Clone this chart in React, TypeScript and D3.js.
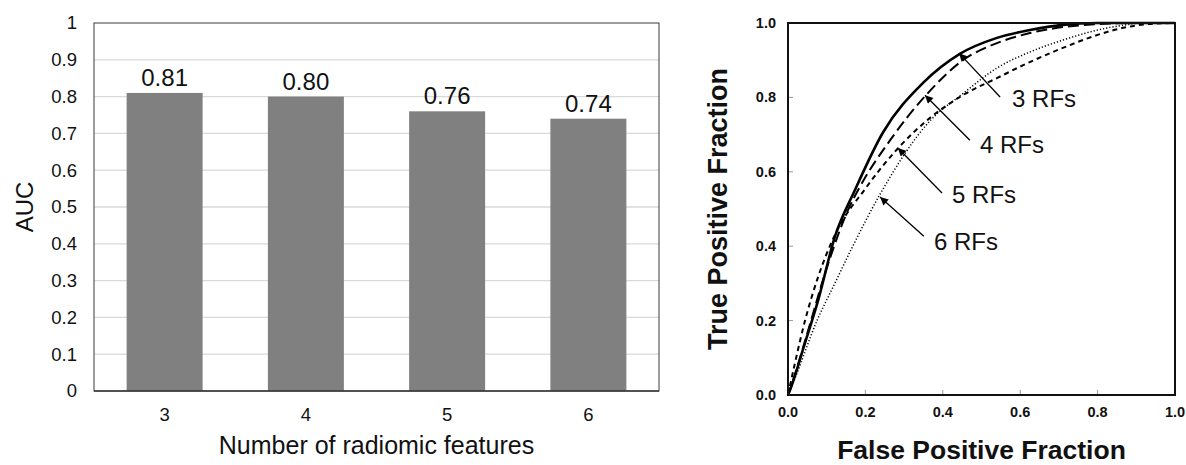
import React from "react";
import * as d3 from "d3";

// ---- Left chart data ----
const featureCounts = ["3", "4", "5", "6"];
const aucValues = [0.81, 0.8, 0.76, 0.74];
const aucLabels = ["0.81", "0.80", "0.76", "0.74"];
const aucTicks = [0, 0.1, 0.2, 0.3, 0.4, 0.5, 0.6, 0.7, 0.8, 0.9, 1];
const aucTickLabels = ["0", "0.1", "0.2", "0.3", "0.4", "0.5", "0.6", "0.7", "0.8", "0.9", "1"];

// ---- Right chart data (ROC curves: [FPF, TPF]) ----
const roc3: [number, number][] = [
  [0, 0], [0.005, 0.013], [0.044, 0.14], [0.078, 0.255], [0.121, 0.425], [0.173, 0.551],
  [0.245, 0.705], [0.349, 0.839], [0.444, 0.917], [0.54, 0.96], [0.625, 0.981],
  [0.71, 0.995], [0.8, 1.0], [1, 1],
];
const roc4: [number, number][] = [
  [0, 0], [0.01, 0.03], [0.044, 0.145], [0.096, 0.328], [0.155, 0.497], [0.186, 0.56],
  [0.264, 0.685], [0.36, 0.81], [0.452, 0.9], [0.54, 0.946], [0.625, 0.973],
  [0.71, 0.989], [0.8, 0.997], [0.9, 1], [1, 1],
];
const roc5: [number, number][] = [
  [0, 0], [0.018, 0.086], [0.044, 0.2], [0.078, 0.318], [0.121, 0.43], [0.2, 0.555],
  [0.285, 0.664], [0.367, 0.745], [0.45, 0.805], [0.54, 0.852], [0.625, 0.895],
  [0.71, 0.933], [0.8, 0.968], [0.866, 0.987], [0.93, 0.997], [1, 1],
];
const roc6: [number, number][] = [
  [0, 0], [0.018, 0.045], [0.075, 0.2], [0.121, 0.3], [0.165, 0.395], [0.238, 0.54],
  [0.367, 0.737], [0.452, 0.81], [0.54, 0.879], [0.625, 0.922], [0.71, 0.954],
  [0.8, 0.981], [0.86, 0.993], [0.92, 1], [1, 1],
];
const rocNames = ["3 RFs", "4 RFs", "5 RFs", "6 RFs"];
// annotation: arrow tip, arrow tail, label anchor (data units)
const arrowTips: [number, number][] = [[0.442, 0.919], [0.354, 0.806], [0.284, 0.664], [0.238, 0.532]];
const arrowTails: [number, number][] = [[0.548, 0.801], [0.47, 0.685], [0.398, 0.543], [0.351, 0.427]];
const labelAnchors: [number, number][] = [[0.579, 0.774], [0.496, 0.651], [0.424, 0.516], [0.377, 0.39]];
const rocTicks = [0, 0.2, 0.4, 0.6, 0.8, 1.0];

const FONT = "Arial, 'Liberation Sans', sans-serif";

export default function App() {
  // left
  const L = { x0: 94, x1: 659, y0: 23, y1: 391 };
  const xb = d3.scaleBand<string>().domain(featureCounts).range([L.x0, L.x1]).paddingInner(0.462).paddingOuter(0.231);
  const yl = d3.scaleLinear().domain([0, 1]).range([L.y1, L.y0]);

  // right
  const R = { x0: 788, x1: 1175, y0: 23, y1: 395 };
  const xr = d3.scaleLinear().domain([0, 1]).range([R.x0, R.x1]);
  const yr = d3.scaleLinear().domain([0, 1]).range([R.y1, R.y0]);
  const line = d3.line<[number, number]>().x((d) => xr(d[0])).y((d) => yr(d[1])).curve(d3.curveMonotoneX);

  const series = [
    { data: roc3, width: 2.6, dash: "none" },
    { data: roc4, width: 2, dash: "11,5" },
    { data: roc5, width: 2, dash: "5,4" },
    { data: roc6, width: 1.5, dash: "1.2,2" },
  ];

  return (
    <div style={{ position: "absolute", left: 0, top: 0 }}>
      <svg width={1186} height={465} style={{ display: "block" }}>
        <defs>
          <marker id="ah" viewBox="0 0 10 10" refX="10" refY="5" markerWidth="9" markerHeight="8" markerUnits="userSpaceOnUse" orient="auto">
            <path d="M0,0 L10,5 L0,10 z" fill="#000" />
          </marker>
        </defs>
        <rect width={1186} height={465} fill="#fff" />
        {/* ---- LEFT CHART ---- */}
        {aucTicks.slice(1, -1).map((t) => (
          <line key={"g" + t} x1={L.x0} x2={L.x1} y1={yl(t)} y2={yl(t)} stroke="#d9d9d9" strokeWidth={1.3} />
        ))}
        {aucValues.map((v, i) => (
          <rect key={"b" + i} x={xb(featureCounts[i])} width={xb.bandwidth()} y={yl(v)} height={yl(0) - yl(v)} fill="#808080" />
        ))}
        <rect x={L.x0} y={L.y0} width={L.x1 - L.x0} height={L.y1 - L.y0} fill="none" stroke="#3a3a3a" strokeWidth={1} />
        <line x1={L.x0} x2={L.x1} y1={L.y1} y2={L.y1} stroke="#3a3a3a" strokeWidth={1.3} />
        {aucTicks.map((t, i) => (
          <text key={"yt" + t} x={77} y={yl(t)} dy="0.35em" textAnchor="end" fontFamily={FONT} fontSize={18.5} fill="#111">
            {aucTickLabels[i]}
          </text>
        ))}
        {featureCounts.map((c) => (
          <text key={"xt" + c} x={(xb(c) as number) + xb.bandwidth() / 2} y={421} textAnchor="middle" fontFamily={FONT} fontSize={18.5} fill="#111">
            {c}
          </text>
        ))}
        {aucValues.map((v, i) => (
          <text key={"dl" + i} x={(xb(featureCounts[i]) as number) + xb.bandwidth() / 2} y={yl(v) - 7} textAnchor="middle" fontFamily={FONT} fontSize={24} fill="#111">
            {aucLabels[i]}
          </text>
        ))}
        <text x={(L.x0 + L.x1) / 2} y={454} textAnchor="middle" fontFamily={FONT} fontSize={25} fill="#111">
          Number of radiomic features
        </text>
        <text transform={`translate(33,${(L.y0 + L.y1) / 2}) rotate(-90)`} textAnchor="middle" fontFamily={FONT} fontSize={24} fill="#111">
          AUC
        </text>

        {/* ---- RIGHT CHART ---- */}
        {rocTicks.slice(1, -1).map((t) => (
          <g key={"rt" + t}>
            <line x1={xr(t)} x2={xr(t)} y1={R.y1} y2={R.y1 - 5} stroke="#999" strokeWidth={1} />
            <line x1={R.x0} x2={R.x0 + 5} y1={yr(t)} y2={yr(t)} stroke="#999" strokeWidth={1} />
          </g>
        ))}
        {series.map((s, i) => (
          <path key={"s" + i} d={line(s.data) as string} fill="none" stroke="#000" strokeWidth={s.width} strokeDasharray={s.dash} />
        ))}
        <rect x={R.x0} y={R.y0} width={R.x1 - R.x0} height={R.y1 - R.y0} fill="none" stroke="#111" strokeWidth={2} />
        {rocTicks.map((t) => (
          <text key={"rxl" + t} x={xr(t)} y={417} textAnchor="middle" fontFamily={FONT} fontSize={14.5} fontWeight="bold" fill="#111">
            {t.toFixed(1)}
          </text>
        ))}
        {rocTicks.map((t) => (
          <text key={"ryl" + t} x={776} y={yr(t)} dy="0.35em" textAnchor="end" fontFamily={FONT} fontSize={14.5} fontWeight="bold" fill="#111">
            {t.toFixed(1)}
          </text>
        ))}
        {rocNames.map((n, i) => (
          <g key={"an" + i}>
            <line x1={xr(arrowTails[i][0])} y1={yr(arrowTails[i][1])} x2={xr(arrowTips[i][0])} y2={yr(arrowTips[i][1])} stroke="#000" strokeWidth={1.3} markerEnd="url(#ah)" />
            <text x={xr(labelAnchors[i][0])} y={yr(labelAnchors[i][1])} fontFamily={FONT} fontSize={24} fill="#111">
              {n}
            </text>
          </g>
        ))}
        <text x={(R.x0 + R.x1) / 2} y={459} textAnchor="middle" fontFamily={FONT} fontSize={26.5} fontWeight="bold" fill="#111">
          False Positive Fraction
        </text>
        <text transform={`translate(727,${(R.y0 + R.y1) / 2}) rotate(-90)`} textAnchor="middle" fontFamily={FONT} fontSize={27} fontWeight="bold" fill="#111">
          True Positive Fraction
        </text>
      </svg>
    </div>
  );
}
